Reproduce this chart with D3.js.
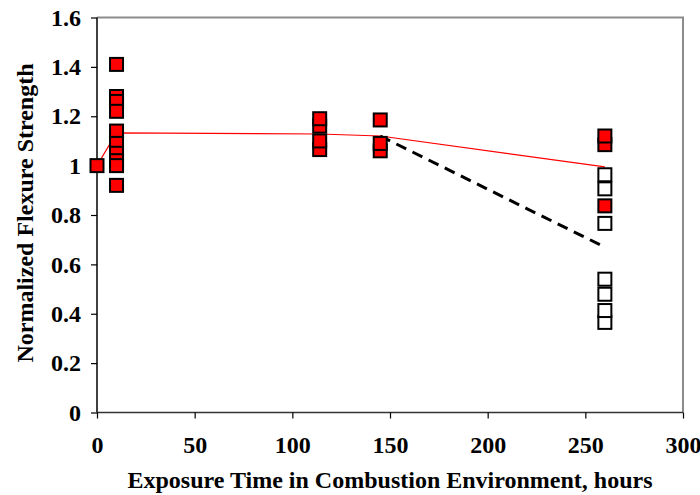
<!DOCTYPE html>
<html>
<head>
<meta charset="utf-8">
<script src="https://cdn.jsdelivr.net/npm/d3@7"></script>
<style>
  html, body { margin: 0; padding: 0; background: #fff; }
  svg text { font-family: "Liberation Serif", "Times New Roman", serif; font-weight: bold; }
</style>
</head>
<body>
<svg id="chart" width="700" height="495"></svg>
<script>
// Exposure time (hours) and normalized strength for each specimen
const retainedX = [0, 10, 10, 10, 10, 10, 10, 10, 10, 10, 10, 114, 114, 114, 114, 145, 145, 145, 260, 260, 260];
const retainedY = [1.0, 1.41, 1.28, 1.26, 1.22, 1.14, 1.09, 1.05, 1.02, 1.00, 0.92, 1.065, 1.10, 1.16, 1.19, 1.06, 1.09, 1.185, 1.085, 1.12, 0.837];
const failedX = [260, 260, 260, 260, 260, 260, 260];
const failedY = [0.906, 0.963, 0.766, 0.54, 0.479, 0.365, 0.413];

// Average trend of the surviving specimens
const trendX = [0, 10, 114, 145, 260];
const trendY = [1.0, 1.133, 1.128, 1.12, 0.995];

// Average trend including all specimens after 145 h
const allTrendX = [145, 220, 260];
const allTrendY = [1.12, 0.826, 0.67];

const xTicks = [0, 50, 100, 150, 200, 250, 300];
const yTicks = [0, 0.2, 0.4, 0.6, 0.8, 1.0, 1.2, 1.4, 1.6];

const margin = { left: 97, top: 17.5, right: 17, bottom: 82.5 };
const W = 700, H = 495;
const svg = d3.select("#chart");

const x = d3.scaleLinear().domain([0, 300]).range([margin.left, W - margin.right]);
const y = d3.scaleLinear().domain([0, 1.6]).range([H - margin.bottom, margin.top]);

// plot frame (top and right edges)
svg.append("path")
  .attr("d", `M${x(0)},${y(1.6)}H${x(300)}V${y(0)}`)
  .attr("fill", "none").attr("stroke", "#8c8c8c").attr("stroke-width", 2);

const yAxis = svg.append("g")
  .attr("transform", `translate(${x(0)},0)`)
  .call(d3.axisLeft(y).tickValues(yTicks).tickSize(6).tickPadding(10)
    .tickFormat(d => d === 0 ? "0" : d === 1 ? "1" : d3.format(".1f")(d)));
const xAxis = svg.append("g")
  .attr("transform", `translate(0,${y(0)})`)
  .call(d3.axisBottom(x).tickValues(xTicks).tickSize(6).tickPadding(17));

[xAxis, yAxis].forEach(g => {
  g.select(".domain").attr("stroke", "#000").attr("stroke-width", 1.5);
  g.selectAll(".tick line").attr("stroke", "#000").attr("stroke-width", 1.2);
  g.selectAll(".tick text").attr("fill", "#000").style("font-size", "24px");
});
xAxis.select(".domain").attr("stroke", "#333");
// the axis lines run straight without outer end ticks
yAxis.select(".domain").attr("d", `M0,${y(1.6)}V${y(0)}`);
xAxis.select(".domain").attr("d", `M${x(0)},0H${x(300)}`);

const line = d3.line().x(d => x(d[0])).y(d => y(d[1]));

svg.append("path")
  .datum(trendX.map((v, i) => [v, trendY[i]]))
  .attr("d", line).attr("fill", "none")
  .attr("stroke", "#ff0000").attr("stroke-width", 1.2);

svg.append("path")
  .datum(allTrendX.map((v, i) => [v, allTrendY[i]]))
  .attr("d", line).attr("fill", "none")
  .attr("stroke", "#000").attr("stroke-width", 3)
  .attr("stroke-dasharray", "11,7");

const S = 13;
function squares(xs, ys, fill) {
  svg.append("g").selectAll("rect")
    .data(xs.map((v, i) => [v, ys[i]]))
    .join("rect")
    .attr("x", d => x(d[0]) - S / 2)
    .attr("y", d => y(d[1]) - S / 2)
    .attr("width", S).attr("height", S)
    .attr("fill", fill).attr("stroke", "#000").attr("stroke-width", 2);
}
squares(failedX, failedY, "#ffffff");
squares(retainedX, retainedY, "#ff0000");

svg.append("text")
  .attr("x", (x(0) + x(300)) / 2).attr("y", 488)
  .attr("text-anchor", "middle").style("font-size", "24px")
  .text("Exposure Time in Combustion Environment, hours");

svg.append("text")
  .attr("transform", `translate(33,${(y(0) + y(1.6)) / 2 - 2}) rotate(-90)`)
  .attr("text-anchor", "middle").style("font-size", "24px")
  .text("Normalized Flexure Strength");
</script>
</body>
</html>
